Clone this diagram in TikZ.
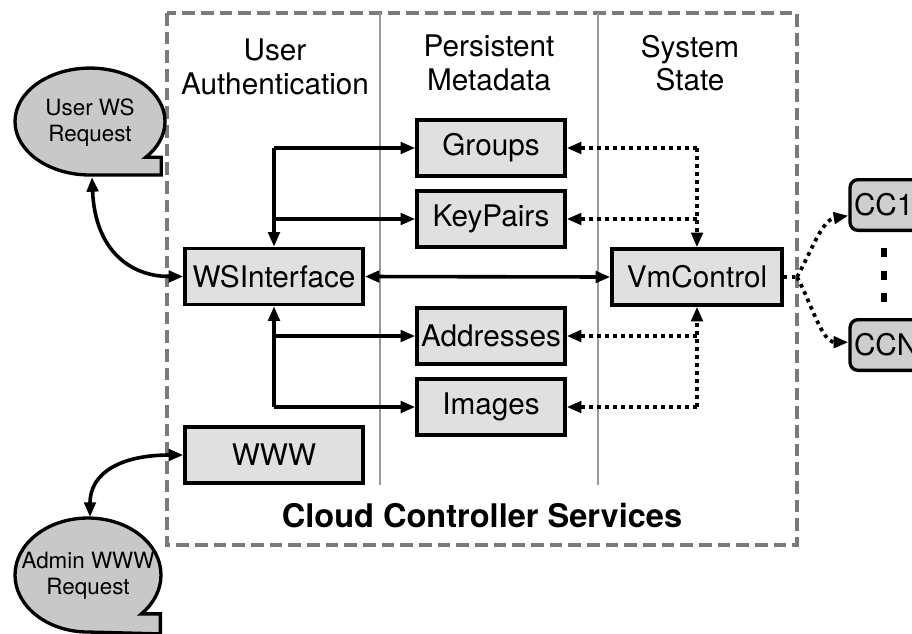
\documentclass[tikz,border=0pt]{standalone}
\usepackage{fontspec}
\setmainfont{TeX Gyre Heros}
\usetikzlibrary{arrows.meta}
\definecolor{boxgray}{HTML}{E0E0E0}
\definecolor{bubblegray}{HTML}{C8C8C8}
\definecolor{ccgray}{HTML}{CECECE}
\definecolor{framegray}{HTML}{7A7A7A}
\definecolor{colgray}{HTML}{9A9A9A}
\begin{document}
\begin{tikzpicture}[x=0.75pt,y=-0.75pt,
  >={Triangle[length=11pt,width=8.5pt]},
  svc/.style={draw=black, line width=2.5pt, fill=boxgray, minimum width=111pt,
    minimum height=42pt, inner sep=0pt, font=\fontsize{22.3}{25}\selectfont},
  widesvc/.style={svc, minimum width=133.5pt},
  cluster/.style={draw=black, line width=2.5pt, fill=ccgray, rounded corners=6pt,
    minimum height=38pt, text width=60pt, align=left, inner xsep=3pt,
    font=\fontsize{22.3}{25}\selectfont},
  header/.style={align=center, font=\fontsize{22.3}{25}\selectfont},
  bubble/.style={draw=black, line width=2.5pt, fill=bubblegray},
  bubbletext/.style={align=center, font=\fontsize{16.8}{19.5}\selectfont},
  link/.style={line width=2.7pt},
  dots/.style={line width=2.8pt, dash pattern=on 2.8pt off 3.2pt}]

\useasboundingbox (0,0) rectangle (912,633);
\clip (0,0) rectangle (912,633);

% outer service frame and column separators
\draw[framegray, line width=3.4pt, dash pattern=on 9.5pt off 4.5pt]
  (167,13) rectangle (797,545);
\draw[colgray, line width=1.6pt] (380,13) -- (380,485);
\draw[colgray, line width=1.6pt] (598,13) -- (598,485);

% column headers and frame title
\node[header] (hauth) at (275,67) {User\\Authentication};
\node[header] (hmeta) at (489,63) {Persistent\\Metadata};
\node[header] (hstate) at (690,63) {System\\State};
\node[font=\fontsize{24.4}{28}\selectfont\bfseries] (title) at (482,516) {Cloud Controller Services};

% services
\node[svc] (groups) at (491,148) {Groups};
\node[svc] (keypairs) at (491,219) {KeyPairs};
\node[svc] (addresses) at (491,336) {Addresses};
\node[svc] (images) at (491,407) {Images};
\node[widesvc] (ws) at (274,276.5) {WSInterface};
\node[widesvc] (www) at (274,455) {WWW};
\node[svc, minimum width=127.5pt] (vm) at (697,277) {VmControl};

% cluster controllers
\node[cluster] (cc1) at (894,205) {CC1};
\node[cluster] (ccn) at (894,345) {CCN};
\fill (881,248) rectangle (887,257);
\fill (881,271) rectangle (887,280);
\fill (881,293) rectangle (887,302);

% request bubbles
\draw[bubble] (90,175) arc[start angle=270, end angle=-42, x radius=56.25pt, y radius=40.1pt]
  -- ++(15.5,0) -- ++(0,17.7) -- cycle;
\node[bubbletext] (userreq) at (90,123) {User WS\\Request};
\coordinate (userreqtail) at (92,177);

\draw[bubble] (88,632) arc[start angle=270, end angle=-43, x radius=54.75pt, y radius=42.75pt]
  -- ++(19,0) -- ++(0,20) -- cycle;
\node[bubbletext] (adminreq) at (88,576) {Admin WWW\\Request};
\coordinate (adminreqtop) at (90,517);

% client requests
\draw[link, <->] (userreqtail) .. controls (95,250) and (130,276.5) .. (ws.west);
\draw[link, <->] (www.west) .. controls (122,455) and (90,472) .. (adminreqtop);

% WSInterface to metadata services
\coordinate (wsg) at (ws.north |- groups.west);
\coordinate (wsk) at (ws.north |- keypairs.west);
\coordinate (wsa) at (ws.south |- addresses.west);
\coordinate (wsi) at (ws.south |- images.west);
\draw[link, ->] (wsg) -- (ws.north);
\draw[link, ->] (wsg) -- (groups.west);
\draw[link, ->] (wsk) -- (keypairs.west);
\draw[link, ->] (wsi) -- (ws.south);
\draw[link, ->] (wsa) -- (addresses.west);
\draw[link, ->] (wsi) -- (images.west);
\draw[link, <->] (ws.east) -- (vm.west);

% VmControl to metadata services
\coordinate (vmg) at (vm.north |- groups.east);
\coordinate (vmk) at (vm.north |- keypairs.east);
\coordinate (vma) at (vm.south |- addresses.east);
\coordinate (vmi) at (vm.south |- images.east);
\draw[dots, ->] (vmg) -- (vm.north);
\draw[dots, ->] (vmg) -- (groups.east);
\draw[dots, ->] (vmk) -- (keypairs.east);
\draw[dots, ->] (vmi) -- (vm.south);
\draw[dots, ->] (vma) -- (addresses.east);
\draw[dots, ->] (vmi) -- (images.east);

% VmControl to cluster controllers
\coordinate (fork) at (797,277);
\draw[dots] (vm.east) -- (fork);
\draw[dots, ->] (fork) .. controls (812,250) and (822,220) .. ([yshift=-8pt]cc1.west);
\draw[dots, ->] (fork) .. controls (812,305) and (822,342) .. ([yshift=2pt]ccn.west);
\end{tikzpicture}
\end{document}
